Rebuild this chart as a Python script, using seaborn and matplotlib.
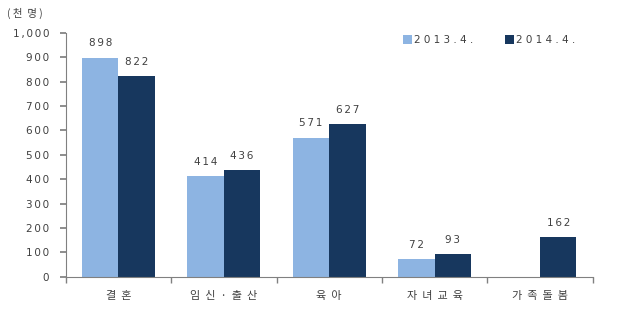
import matplotlib
matplotlib.use("Agg")
import matplotlib.pyplot as plt
import seaborn as sns
import pandas as pd
import numpy as np

categories = ["결혼", "임신·출산", "육아", "자녀교육", "가족돌봄"]
series_names = ["2013.4.", "2014.4."]
values_2013 = [898, 414, 571, 72, np.nan]
values_2014 = [822, 436, 627, 93, 162]
yticks = [0, 100, 200, 300, 400, 500, 600, 700, 800, 900, 1000]

sns.set_theme(style="white")
plt.rcParams['font.family'] = ['Noto Sans CJK KR', 'DejaVu Sans']

def spaced(s, sep="\u2006"):
    return sep.join(list(s))

df = pd.DataFrame({
    "cat": categories * 2,
    "series": [series_names[0]] * 5 + [series_names[1]] * 5,
    "value": values_2013 + values_2014,
})

colors = ["#8DB4E2", "#17375E"]
txt = "#404040"

fig = plt.figure(figsize=(6.2, 3.32), dpi=100)
ax = fig.add_axes([0.106, 0.166, 0.85, 0.735])
sns.barplot(data=df, x="cat", y="value", hue="series", palette=colors,
            width=0.69, ax=ax, saturation=1, legend=True, linewidth=0, edgecolor="none")

ax.set_ylim(0, 1000)
ax.set_xlim(-0.5, 4.5)
ax.set_yticks(yticks)
ax.set_yticklabels([spaced(f"{v:,}") for v in yticks], fontsize=7.5, color=txt,
                   family=["DejaVu Sans"])
ax.set_xticks(range(5))
ax.set_xticklabels([spaced(c, "  ") for c in categories], fontsize=8, color=txt)
ax.set_xticks(np.arange(-0.5, 5, 1), minor=True)
ax.tick_params(axis="x", which="major", length=0, pad=10)
ax.tick_params(axis="x", which="minor", length=4, color="#808080", direction="out", bottom=True)
ax.tick_params(axis="y", length=4, color="#808080", direction="out", left=True, pad=8)
ax.set_xlabel("")
ax.set_ylabel("")
for s in ["top", "right"]:
    ax.spines[s].set_visible(False)
for s in ["left", "bottom"]:
    ax.spines[s].set_color("#808080")
    ax.spines[s].set_linewidth(0.8)

for cont in ax.containers:
    for bar in cont:
        h = bar.get_height()
        if np.isnan(h) or h == 0:
            continue
        ax.text(bar.get_x() + bar.get_width() / 2, h + 38, spaced(str(int(h))),
                ha="center", va="bottom", fontsize=7.5, color=txt, family=["DejaVu Sans"])

leg = ax.legend(loc="upper right", bbox_to_anchor=(0.985, 1.03), ncol=2, frameon=False,
                handlelength=0.9, handleheight=0.9, handletextpad=0.2,
                columnspacing=3.0, labelcolor=txt, prop={"family": "DejaVu Sans", "size": 7.5})
for t in leg.get_texts():
    t.set_text(spaced(t.get_text(), " "))

fig.text(0.012, 0.975, "( 천  명 )", fontsize=7.5, color=txt, ha="left", va="top")

fig.savefig("out.png", dpi=100)
